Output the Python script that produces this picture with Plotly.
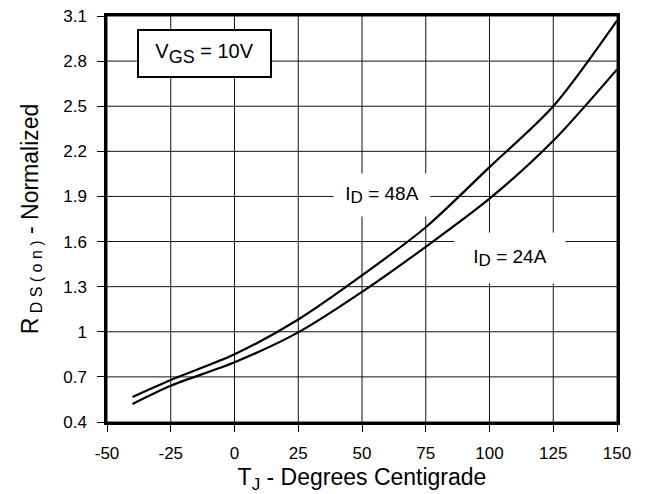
import plotly.graph_objects as go

temps = [-40, -25, 0, 25, 50, 75, 100, 125, 150]
rds_48a = [0.566, 0.679, 0.85, 1.082, 1.375, 1.695, 2.095, 2.50, 3.07]
rds_24a = [0.52, 0.641, 0.797, 0.996, 1.265, 1.565, 1.885, 2.27, 2.745]

x_ticks = [-50, -25, 0, 25, 50, 75, 100, 125, 150]
y_ticks = [0.4, 0.7, 1.0, 1.3, 1.6, 1.9, 2.2, 2.5, 2.8, 3.1]
y_labels = ["0.4", "0.7", "1", "1.3", "1.6", "1.9", "2.2", "2.5", "2.8", "3.1"]

FONT = "Liberation Sans, Arial, sans-serif"

fig = go.Figure()
for ys, name in [(rds_48a, "48A"), (rds_24a, "24A")]:
    fig.add_trace(go.Scatter(x=temps, y=ys, mode="lines", name=name,
                             line=dict(color="black", width=2.2, shape="spline", smoothing=0.8),
                             showlegend=False))

# grid lines at the tick positions (drawn below the curves)
for xv in x_ticks:
    fig.add_shape(type="line", xref="x", yref="paper", x0=xv, x1=xv, y0=0, y1=1,
                  line=dict(color="#111", width=1), layer="below")
for yv in y_ticks:
    fig.add_shape(type="line", xref="paper", yref="y", x0=0, x1=1, y0=yv, y1=yv,
                  line=dict(color="#111", width=1), layer="below")

def sub(t, size):
    return "<sub><span style='font-size:%dpx'>%s</span></sub>" % (size, t)

fig.add_annotation(x=58, y=1.91, text="I" + sub("D", 17) + " = 48A", showarrow=False,
                   font=dict(family=FONT, size=19, color="black"), bgcolor="white",
                   width=96, height=42, borderpad=0, xanchor="center", yanchor="middle")
fig.add_annotation(x=108, y=1.49, text="I" + sub("D", 17) + " = 24A", showarrow=False,
                   font=dict(family=FONT, size=19, color="black"), bgcolor="white",
                   width=110, height=50, borderpad=0, xanchor="center", yanchor="middle")
fig.add_annotation(x=-11.8, y=2.852, text="V" + sub("GS", 18) + " = 10V", showarrow=False,
                   font=dict(family=FONT, size=20, color="black"), bgcolor="white",
                   bordercolor="black", borderwidth=2, borderpad=0, width=131, height=45,
                   xanchor="center", yanchor="middle")

fig.update_layout(
    width=644, height=486,
    margin=dict(l=99, r=35, t=8, b=72, autoexpand=False),
    paper_bgcolor="white", plot_bgcolor="white",
    font=dict(family=FONT, size=17, color="black"),
)
common = dict(showgrid=False,
              showline=True, linecolor="black", linewidth=2.5, mirror=True,
              ticks="outside", ticklen=7, tickcolor="black", tickwidth=1.2,
              zeroline=False, tickfont=dict(family=FONT, size=17, color="black"),
              automargin=False, ticklabeloverflow="allow")
fig.update_xaxes(range=[-50, 150], tickvals=x_ticks, ticktext=[str(v) for v in x_ticks],
                 ticklabelstandoff=7,
                 title=dict(text="T" + sub("J", 17) + " - Degrees Centigrade",
                            font=dict(family=FONT, size=23), standoff=9),
                 **common)
fig.update_yaxes(range=[0.4, 3.1], tickvals=y_ticks, ticktext=y_labels,
                 ticklabelstandoff=7,
                 title=dict(text="R" + sub(" D S ( o n )", 16) + " - Normalized",
                            font=dict(family=FONT, size=23), standoff=19),
                 **common)

fig.write_html("out.html")
